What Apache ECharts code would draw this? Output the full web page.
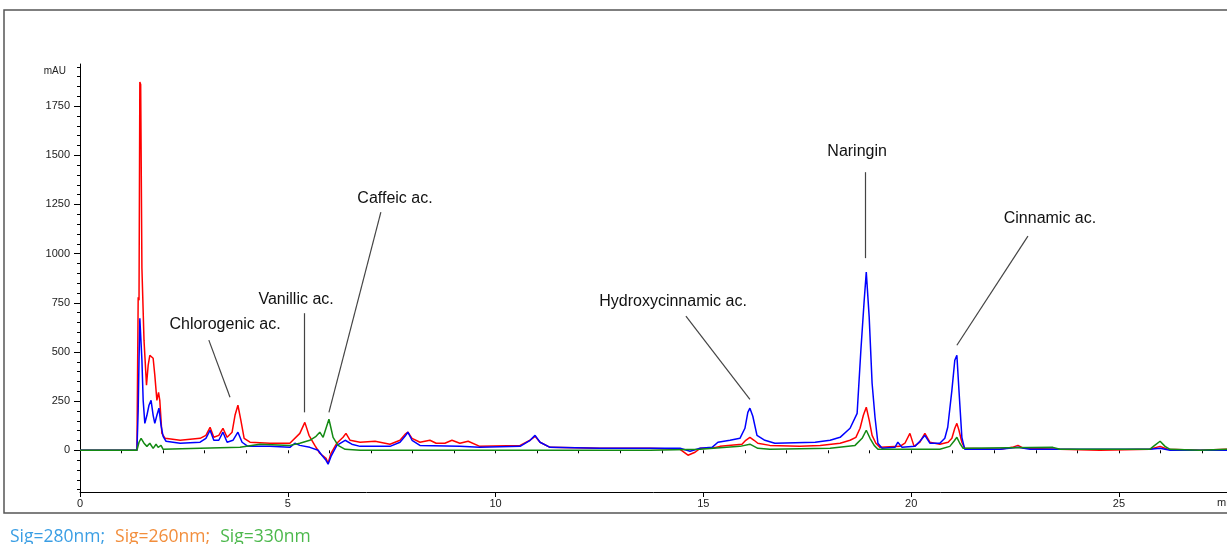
<!DOCTYPE html>
<html>
<head>
<meta charset="utf-8">
<script src="https://cdn.jsdelivr.net/npm/echarts@6/dist/echarts.min.js"></script>
<style>
html, body { margin: 0; padding: 0; background: #fff; }
#main { width: 1227px; height: 544px; }
</style>
</head>
<body>
<div id="main"></div>
<script>
// chromatogram traces, [time (min), absorbance (mAU)]
var sig260 = [
    [0, 0], [1.37, 0], [1.40, 778], [1.42, 763], [1.44, 1872], [1.46, 1860], [1.49, 926], [1.52, 926],
    [1.54, 560], [1.60, 331], [1.64, 432], [1.68, 483], [1.76, 468], [1.80, 382], [1.85, 254], [1.89, 295],
    [1.92, 254], [1.97, 86], [2.05, 61], [2.41, 51], [2.89, 61], [3.03, 76], [3.13, 117], [3.22, 66],
    [3.34, 76], [3.44, 112], [3.54, 66], [3.66, 92], [3.73, 178], [3.80, 229], [3.87, 153], [3.95, 61],
    [4.09, 41], [4.57, 36], [5.05, 36], [5.29, 86], [5.41, 142], [5.51, 76], [5.65, 25], [5.77, -15],
    [5.92, -41], [5.97, -66], [6.04, -15], [6.18, 36], [6.33, 66], [6.40, 86], [6.50, 51], [6.74, 41],
    [7.10, 46], [7.46, 31], [7.70, 51], [7.82, 81], [7.89, 92], [7.99, 61], [8.18, 41], [8.42, 51],
    [8.57, 36], [8.78, 36], [8.95, 51], [9.14, 36], [9.34, 46], [9.62, 20], [10.59, 25], [10.83, 51],
    [10.95, 71], [11.07, 41], [11.31, 15], [12.51, 10], [13.72, 10], [14.44, 5], [14.63, -25], [14.80, -10],
    [14.92, 10], [15.21, 10], [15.40, 20], [15.93, 31], [16.02, 51], [16.12, 66], [16.22, 51], [16.31, 36],
    [16.60, 25], [17.32, 20], [17.81, 25], [18.29, 36], [18.53, 51], [18.67, 66], [18.77, 112], [18.85, 178],
    [18.92, 219], [18.99, 153], [19.06, 76], [19.15, 36], [19.25, 15], [19.73, 20], [19.85, 36], [19.97, 86],
    [20.07, 20], [20.21, 41], [20.33, 86], [20.45, 41], [20.69, 31], [20.89, 41], [20.98, 61], [21.05, 112],
    [21.10, 137], [21.15, 102], [21.22, 41], [21.29, 10], [22.14, 5], [22.43, 15], [22.57, 25], [22.71, 10],
    [23.58, 5], [24.54, 0], [25.74, 5], [25.99, 20], [26.17, 5], [26.95, 0], [27.6, 5]
];
var sig280 = [
    [0, 0], [1.37, 0], [1.40, 203], [1.42, 458], [1.44, 671], [1.47, 661], [1.49, 458], [1.52, 254],
    [1.56, 137], [1.61, 178], [1.66, 229], [1.71, 254], [1.76, 178], [1.80, 137], [1.85, 178], [1.90, 214],
    [1.95, 127], [2.00, 71], [2.07, 46], [2.41, 36], [2.89, 41], [3.03, 61], [3.13, 102], [3.22, 51],
    [3.34, 51], [3.44, 92], [3.54, 41], [3.68, 51], [3.80, 92], [3.90, 41], [4.04, 20], [4.57, 20],
    [5.05, 15], [5.17, 36], [5.29, 25], [5.53, 15], [5.73, 0], [5.82, -25], [5.92, -51], [5.97, -71],
    [6.04, -31], [6.18, 25], [6.38, 51], [6.54, 31], [6.74, 20], [7.46, 20], [7.70, 41], [7.82, 71],
    [7.89, 92], [7.99, 51], [8.18, 25], [9.14, 20], [9.62, 15], [10.59, 20], [10.83, 51], [10.95, 76],
    [11.07, 41], [11.31, 15], [12.51, 10], [14.44, 10], [14.68, -5], [14.92, 10], [15.21, 15], [15.35, 41],
    [15.64, 51], [15.88, 61], [16.00, 112], [16.07, 193], [16.12, 214], [16.19, 173], [16.29, 76], [16.48, 51],
    [16.72, 36], [17.69, 41], [18.05, 51], [18.29, 66], [18.53, 112], [18.70, 188], [18.79, 509], [18.87, 763],
    [18.92, 906], [18.99, 677], [19.06, 341], [19.13, 168], [19.20, 36], [19.30, 10], [19.61, 15], [19.68, 41],
    [19.78, 15], [20.09, 20], [20.21, 46], [20.33, 76], [20.45, 36], [20.69, 36], [20.81, 61], [20.88, 117],
    [20.98, 305], [21.05, 458], [21.10, 483], [21.15, 305], [21.22, 66], [21.29, 5], [22.14, 5], [22.57, 15],
    [22.86, 5], [25.74, 5], [25.99, 10], [26.23, 0], [27.6, 0]
];
var sig330 = [
    [0, 0], [1.37, 0], [1.42, 41], [1.47, 61], [1.54, 36], [1.61, 20], [1.68, 36], [1.76, 10],
    [1.83, 31], [1.88, 15], [1.95, 25], [2.00, 5], [2.89, 10], [3.85, 15], [4.33, 31], [5.05, 25],
    [5.29, 36], [5.53, 51], [5.68, 71], [5.77, 92], [5.85, 66], [5.92, 112], [5.99, 158], [6.04, 112],
    [6.09, 66], [6.21, 25], [6.38, 5], [6.74, 0], [13.72, 0], [14.92, 5], [15.88, 20], [16.12, 31],
    [16.31, 10], [16.60, 5], [18.05, 10], [18.65, 25], [18.82, 61], [18.92, 102], [19.01, 61], [19.11, 25],
    [19.20, 5], [20.69, 5], [20.93, 20], [21.03, 46], [21.10, 66], [21.17, 36], [21.25, 10], [23.41, 15],
    [23.58, 5], [25.74, 5], [25.86, 25], [25.99, 46], [26.11, 20], [26.23, 5], [26.95, 0], [27.6, 5]
];

var seriesNames = ['Sig=280nm', 'Sig=260nm', 'Sig=330nm'];
var yLabels = [0, 250, 500, 750, 1000, 1250, 1500, 1750];
var xLabels = [0, 5, 10, 15, 20, 25];

// peak labels: text centre, then the leader line ends
var peakNotes = [
    { text: 'Chlorogenic ac.', at: [3.49, 641], from: [3.10, 560], to: [3.61, 270] },
    { text: 'Vanillic ac.', at: [5.20, 768], from: [5.39, 697], to: [5.39, 193] },
    { text: 'Caffeic ac.', at: [7.58, 1282], from: [7.24, 1211], to: [5.99, 193] },
    { text: 'Hydroxycinnamic ac.', at: [14.27, 758], from: [14.58, 682], to: [16.12, 259] },
    { text: 'Naringin', at: [18.70, 1521], from: [18.89, 1414], to: [18.89, 977] },
    { text: 'Cinnamic ac.', at: [23.34, 1180], from: [22.81, 1089], to: [21.10, 534] }
];

var chartDom = document.getElementById('main');
var myChart = echarts.init(chartDom);
var option;

var yMinor = [];
for (var i = -200; i <= 1950; i += 50) yMinor.push(i);
var xMinor = [];
for (var j = 0; j <= 27; j++) xMinor.push(j);

var axisFont = { fontFamily: 'Liberation Sans', fontSize: 11, color: '#222' };
var plain = function (v) { return String(v); };

option = {
    animation: false,
    grid: { left: 80, right: 0, top: 64, bottom: 52 },
    legend: {
        left: 0,
        top: 523,
        icon: 'none',
        itemWidth: 0,
        itemHeight: 0,
        itemGap: 5,
        selectedMode: false,
        formatter: function (name) {
            return name === 'Sig=330nm' ? name : name + ';';
        },
        textStyle: { fontFamily: 'Open Sans', fontSize: 17.5 },
        data: [
            { name: 'Sig=280nm', textStyle: { color: '#3a9ee4' } },
            { name: 'Sig=260nm', textStyle: { color: '#f28e3c' } },
            { name: 'Sig=330nm', textStyle: { color: '#4cb84c' } }
        ]
    },
    xAxis: [
        {
            type: 'value',
            min: 0,
            max: 27.6,
            axisLine: { onZero: false, lineStyle: { color: '#000', width: 1 } },
            axisTick: { customValues: xLabels, length: 5, lineStyle: { color: '#000' } },
            axisLabel: { customValues: xLabels, margin: 6, formatter: plain, ...axisFont },
            splitLine: { show: false }
        },
        {
            type: 'value',
            position: 'bottom',
            min: 0,
            max: 27.6,
            axisLine: { show: false },
            axisTick: { customValues: xMinor, length: 3, lineStyle: { color: '#000' } },
            axisLabel: { show: false },
            splitLine: { show: false }
        }
    ],
    yAxis: [
        {
            type: 'value',
            min: -212,
            max: 1964,
            name: 'mAU',
            nameLocation: 'end',
            nameGap: -2,
            nameTextStyle: { align: 'right', verticalAlign: 'top', padding: [0, 14, 0, 0], ...axisFont, fontSize: 10 },
            axisLine: { show: true, lineStyle: { color: '#000', width: 1 } },
            axisTick: { customValues: yLabels, length: 6, lineStyle: { color: '#000' } },
            axisLabel: { customValues: yLabels, margin: 10, formatter: plain, ...axisFont },
            splitLine: { show: false }
        },
        {
            type: 'value',
            position: 'left',
            min: -212,
            max: 1964,
            axisLine: { show: false },
            axisTick: { show: true, customValues: yMinor, length: 3, lineStyle: { color: '#000' } },
            axisLabel: { show: false },
            splitLine: { show: false }
        }
    ],
    series: [
        {
            name: seriesNames[1],
            type: 'line',
            data: sig260,
            showSymbol: false,
            lineStyle: { color: '#ff0000', width: 1.5 },
            itemStyle: { color: '#ff0000' },
            z: 2
        },
        {
            name: seriesNames[0],
            type: 'line',
            data: sig280,
            showSymbol: false,
            lineStyle: { color: '#0000ff', width: 1.5 },
            itemStyle: { color: '#0000ff' },
            z: 3
        },
        {
            name: seriesNames[2],
            type: 'line',
            data: sig330,
            showSymbol: false,
            lineStyle: { color: '#138a13', width: 1.5 },
            itemStyle: { color: '#138a13' },
            z: 4,
            markLine: {
                silent: true,
                symbol: ['none', 'none'],
                label: { show: false },
                lineStyle: { color: '#444', width: 1.2, type: 'solid' },
                data: peakNotes.map(function (p) {
                    return [{ coord: p.from }, { coord: p.to }];
                })
            },
            markPoint: {
                silent: true,
                symbol: 'rect',
                symbolSize: 1,
                itemStyle: { color: 'transparent' },
                label: {
                    show: true,
                    position: 'inside',
                    color: '#111',
                    fontFamily: 'Liberation Sans',
                    fontSize: 16,
                    formatter: function (d) { return d.name; }
                },
                data: peakNotes.map(function (p) {
                    return { name: p.text, coord: p.at };
                })
            }
        }
    ],
    graphic: [
        {
            type: 'rect',
            shape: { x: 4, y: 10, width: 1240, height: 503 },
            style: { fill: null, stroke: '#555', lineWidth: 1.5 },
            silent: true
        },
        {
            type: 'text',
            left: 1217,
            top: 497,
            style: { text: 'min', font: '11px "Liberation Sans"', fill: '#222' },
            silent: true
        }
    ]
};

option && myChart.setOption(option);
</script>
</body>
</html>
